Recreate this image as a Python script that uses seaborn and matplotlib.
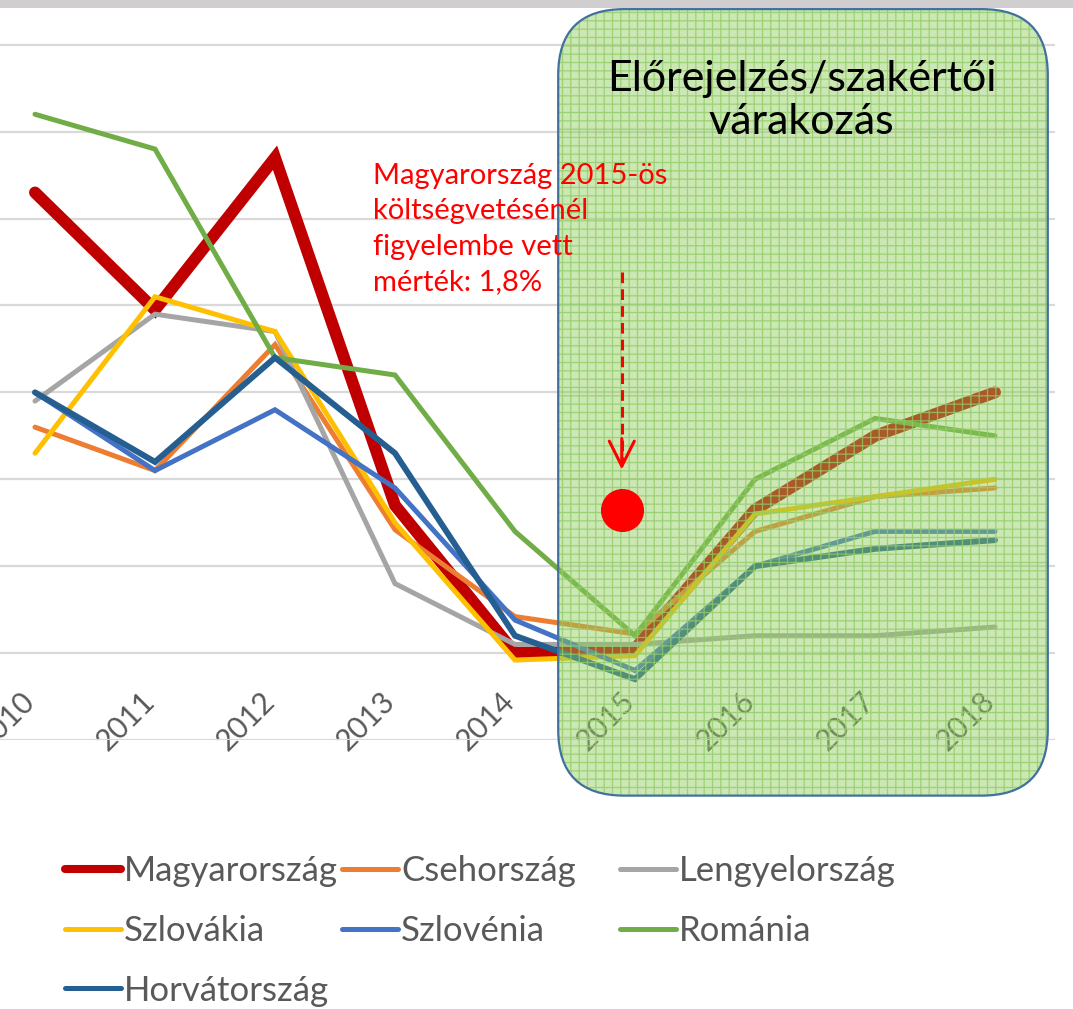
import pandas as pd
import seaborn as sns
import matplotlib.pyplot as plt
from matplotlib.lines import Line2D
from matplotlib.patches import FancyBboxPatch, Rectangle
from matplotlib.transforms import ScaledTranslation

# data (one unit per gridline)
years = [2010, 2011, 2012, 2013, 2014, 2015, 2016, 2017, 2018]
magyarorszag = [5.3, 3.95, 5.7, 1.7, 0.0, 0.05, 1.65, 2.5, 3.0]
csehorszag = [2.6, 2.1, 3.55, 1.42, 0.42, 0.22, 1.4, 1.8, 1.9]
lengyelorszag = [2.9, 3.9, 3.7, 0.8, 0.1, 0.1, 0.2, 0.2, 0.3]
szlovakia = [2.3, 4.1, 3.7, 1.5, -0.08, -0.03, 1.6, 1.8, 2.0]
szlovenia = [3.0, 2.1, 2.8, 1.9, 0.38, -0.2, 1.0, 1.4, 1.4]
romania = [6.2, 5.8, 3.4, 3.2, 1.4, 0.2, 2.0, 2.7, 2.5]
horvatorszag = [3.0, 2.2, 3.4, 2.3, 0.2, -0.3, 1.0, 1.2, 1.3]

budget_year = 2015
budget_value = 1.65

countries = ["Magyarország", "Csehország", "Lengyelország", "Szlovákia",
             "Szlovénia", "Románia", "Horvátország"]
values = [magyarorszag, csehorszag, lengyelorszag, szlovakia,
          szlovenia, romania, horvatorszag]
colors = ["#C00000", "#ED7D31", "#A5A5A5", "#FFC000", "#4472C4", "#70AD47", "#255E91"]
widths = [8.6, 3.6, 3.6, 3.6, 3.6, 3.6, 4.3]

df = pd.DataFrame({
    "year": years * len(countries),
    "country": [c for c in countries for _ in years],
    "value": [v for vals in values for v in vals],
})

sns.set_theme(style="white")
plt.rcParams["font.family"] = ["Lato", "DejaVu Sans"]
plt.rcParams["hatch.linewidth"] = 0.9

fig = plt.figure(figsize=(10.73, 10.09), dpi=100)
ax = fig.add_axes([-25 / 1073, 269 / 1009, 1080 / 1073, 730 / 1009])

for c, col, lw in zip(countries, colors, widths):
    sns.lineplot(data=df[df["country"] == c], x="year", y="value", color=col,
                 lw=lw, ax=ax, legend=False, solid_capstyle="round",
                 solid_joinstyle="miter")

ax.set_xlim(2009.5, 2018.5)
ax.set_ylim(-1, 7.4)
ax.set_yticks(range(-1, 8))
ax.set_yticklabels([])
ax.yaxis.grid(True, color="#D9D9D9", lw=1.6)
ax.set_axisbelow(True)
for s in ax.spines.values():
    s.set_visible(False)
ax.set_xlabel("")
ax.set_ylabel("")
ax.tick_params(axis="both", length=0, pad=0)
ax.set_xticks(years)
ax.set_xticklabels([str(y) for y in years], rotation=45, rotation_mode="anchor",
                   ha="center", va="center", fontsize=21.5, color="#595959")
shift = ScaledTranslation(-0.29, 0.185, fig.dpi_scale_trans)
for lab in ax.get_xticklabels():
    lab.set_transform(lab.get_transform() + shift)

# forecast box over the lines
box_xy, box_w, box_h = (2014.36, -1.64), 4.08, 9.05
style = "round,pad=0,rounding_size=0.55"
ax.add_patch(FancyBboxPatch(box_xy, box_w, box_h, boxstyle=style, mutation_aspect=1.38,
                            facecolor="#8CCB5A", alpha=0.45, edgecolor="none",
                            clip_on=False, zorder=5))
ax.add_patch(FancyBboxPatch(box_xy, box_w, box_h, boxstyle=style, mutation_aspect=1.38,
                            facecolor="none", hatch="++", edgecolor="#92CC66",
                            lw=0.01, alpha=0.8, clip_on=False, zorder=5.1))
ax.add_patch(FancyBboxPatch(box_xy, box_w, box_h, boxstyle=style, mutation_aspect=1.38,
                            facecolor="none", edgecolor="#41719C", lw=1.6,
                            clip_on=False, zorder=5.2))
ax.text(2016.39, 6.36, "Előrejelzés/szakértői\nvárakozás", ha="center", va="center",
        fontsize=31, color="black", linespacing=1.15, zorder=6)

# budget assumption
ax.text(2012.82, 5.64, "Magyarország 2015-ös\nköltségvetésénél\nfigyelembe vett\nmérték: 1,8%",
        ha="left", va="top", fontsize=21, color="red", linespacing=1.45, zorder=6)
ax.plot([budget_year - 0.11, budget_year - 0.11], [4.39, 2.2], color="red",
        lw=2.2, ls=(0, (3.5, 2)), zorder=6, clip_on=False)
ax.annotate("", xy=(budget_year - 0.11, 2.08), xytext=(budget_year - 0.11, 2.5),
            arrowprops=dict(arrowstyle="->,head_length=0.6,head_width=0.3",
                            color="red", lw=2.2, mutation_scale=30),
            zorder=6)
ax.plot([budget_year - 0.11], [budget_value], "o", color="red", ms=30, zorder=6)

# top grey band
fig.add_artist(Rectangle((0, 1 - 8 / 1009), 1, 8 / 1009, transform=fig.transFigure,
                         facecolor="#D0CECF", edgecolor="none"))

# legend, row-wise in three columns
handles = [Line2D([], [], color=col, lw=(5.8 if i == 0 else 3.6), solid_capstyle="round")
           for i, col in enumerate(colors)]
groups = [([0, 3, 6], 65), ([1, 4], 342), ([2, 5], 620)]
for idx, xpx in groups:
    fig.legend([handles[i] for i in idx], [countries[i] for i in idx],
               loc="upper left", bbox_to_anchor=(xpx / 1073, 1 - 855 / 1009),
               frameon=False, fontsize=25, handlelength=1.6, handletextpad=0.1,
               borderpad=0, borderaxespad=0, labelspacing=0.8,
               labelcolor="#595959")

fig.savefig("out.png", dpi=100)
